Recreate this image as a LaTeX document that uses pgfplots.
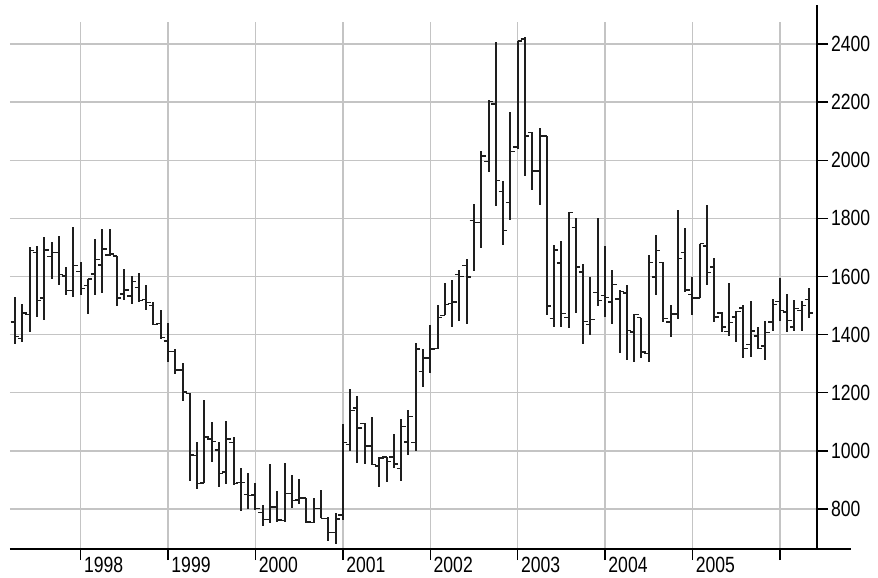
\documentclass[border=0pt]{standalone}
\usepackage{fontspec}
\setmainfont{Liberation Sans}[FakeStretch=0.8]
\usepackage{pgfplots}
\usepackage{pgfplotstable}
\pgfplotsset{compat=1.18}

\definecolor{gridc}{HTML}{C4C4C4}
\definecolor{barc}{HTML}{1E1E1E}

% open tick to the left, close tick to the right
\pgfdeclareplotmark{otick}{\pgfpathmoveto{\pgfqpoint{-2.2pt}{0pt}}\pgfpathlineto{\pgfqpoint{0pt}{0pt}}\pgfusepathqstroke}
\pgfdeclareplotmark{ctick}{\pgfpathmoveto{\pgfqpoint{0pt}{0pt}}\pgfpathlineto{\pgfqpoint{2.2pt}{0pt}}\pgfusepathqstroke}

% monthly bars, x = months since Jan 1998
\pgfplotstableread{
x o h l c
-9 1443 1529 1369 1394
-8 1386 1506 1375 1475
-7 1470 1701 1409 1689
-6 1683 1706 1461 1518
-5 1526 1735 1449 1691
-4 1669 1720 1592 1683
-3 1683 1741 1569 1606
-2 1601 1632 1535 1552
-1 1552 1769 1529 1638
0 1617 1651 1535 1558
1 1569 1592 1472 1592
2 1609 1729 1535 1658
3 1640 1763 1544 1695
4 1674 1763 1672 1678
5 1670 1672 1500 1526
6 1540 1626 1518 1554
7 1533 1601 1506 1583
8 1563 1613 1512 1518
9 1521 1569 1483 1510
10 1501 1512 1432 1434
11 1438 1483 1386 1389
12 1378 1440 1306 1341
13 1341 1349 1263 1278
14 1278 1301 1171 1203
15 1197 1200 897 986
16 983 1029 869 887
17 889 1175 889 1047
18 1040 1098 960 1032
19 1003 1029 875 921
20 927 1103 886 1040
21 1029 1049 883 887
22 890 940 794 891
23 849 925 800 847
24 848 890 796 802
25 787 814 741 764
26 764 953 752 806
27 806 860 756 762
28 760 957 758 852
29 852 915 802 828
30 831 903 817 837
31 837 837 752 755
32 754 837 752 802
33 802 864 767 767
34 767 773 690 719
35 719 787 678 765
36 779 1093 762 1029
37 1021 1212 1001 1139
38 1147 1187 957 1078
39 1095 1097 955 1017
40 1017 1118 952 952
41 948 978 877 975
42 978 978 891 963
43 978 1058 940 955
44 940 1109 895 1084
45 1030 1141 986 1118
46 1029 1370 1001 1350
47 1273 1350 1221 1319
48 1319 1434 1267 1350
49 1352 1501 1352 1458
50 1466 1577 1466 1504
51 1506 1589 1426 1512
52 1607 1623 1447 1600
53 1638 1661 1435 1598
54 1792 1851 1618 1786
55 1786 2032 1698 2015
56 1995 2206 1958 2203
57 2194 2407 1843 1931
58 1893 1927 1710 1758
59 1855 2167 1794 2030
60 2046 2411 2038 2411
61 2417 2426 1946 2083
62 2095 2097 1897 1963
63 1963 2112 1847 2083
64 2083 2083 1466 1498
65 1455 1709 1426 1691
66 1646 1723 1426 1472
67 1458 1821 1424 1821
68 1769 1803 1475 1632
69 1615 1643 1369 1446
70 1434 1598 1400 1451
71 1544 1803 1498 1518
72 1535 1704 1461 1527
73 1512 1621 1438 1573
74 1523 1552 1335 1549
75 1543 1569 1314 1415
76 1409 1470 1306 1470
77 1458 1458 1321 1340
78 1334 1674 1306 1649
79 1598 1744 1535 1689
80 1649 1649 1443 1455
81 1444 1501 1392 1471
82 1471 1828 1452 1662
83 1682 1766 1548 1554
84 1539 1599 1467 1526
85 1526 1713 1526 1713
86 1705 1845 1569 1614
87 1633 1664 1443 1460
88 1475 1478 1409 1426
89 1410 1579 1395 1441
90 1460 1480 1376 1480
91 1492 1503 1319 1352
92 1365 1517 1324 1412
93 1395 1426 1350 1353
94 1361 1448 1312 1407
95 1444 1523 1412 1503
96 1514 1594 1446 1482
97 1478 1539 1410 1448
98 1426 1518 1412 1489
99 1482 1517 1412 1501
100 1520 1562 1458 1475
}\ohlc

\begin{document}
\begin{tikzpicture}
\begin{axis}[
    scale only axis,
    width=403.5pt, height=263.5pt,
    xmin=-9.7, xmax=101.1,
    ymin=662, ymax=2476,
    axis x line*=bottom,
    axis y line*=right,
    x axis line style={line width=0.7pt, shorten >=-17pt},
    y axis line style={line width=0.7pt, shorten >=-8.5pt},
    xtick={0,12,...,96},
    xticklabels={1998,1999,2000,2001,2002,2003,2004,2005,{}},
    ytick={800,1000,...,2400},
    tick align=outside,
    major tick length=5.5pt,
    tick style={black, line width=0.7pt},
    grid=major,
    major grid style={gridc, line width=0.75pt},
    tick label style={font=\fontsize{11}{13}\selectfont},
    xticklabel style={anchor=north west, inner sep=0.5pt, xshift=1pt, yshift=2.2pt},
    yticklabel style={xshift=-2pt},
    /pgf/number format/assume math mode=true,
    /pgf/number format/1000 sep={},
    clip=false,
]
\addplot[barc, only marks, mark=otick, mark options={line width=0.7pt},
    error bars/.cd, y dir=both, y explicit, error mark=none,
    error bar style={barc, line width=1pt}]
    table[x=x, y=o, y error plus expr=\thisrow{h}-\thisrow{o},
          y error minus expr=\thisrow{o}-\thisrow{l}] {\ohlc};
\addplot[barc, only marks, mark=ctick, mark options={line width=0.7pt}]
    table[x=x, y=c] {\ohlc};
\end{axis}
\pgfresetboundingbox
\path (-5pt,-14.5pt) rectangle (434pt,274.5pt);
\end{tikzpicture}
\end{document}
